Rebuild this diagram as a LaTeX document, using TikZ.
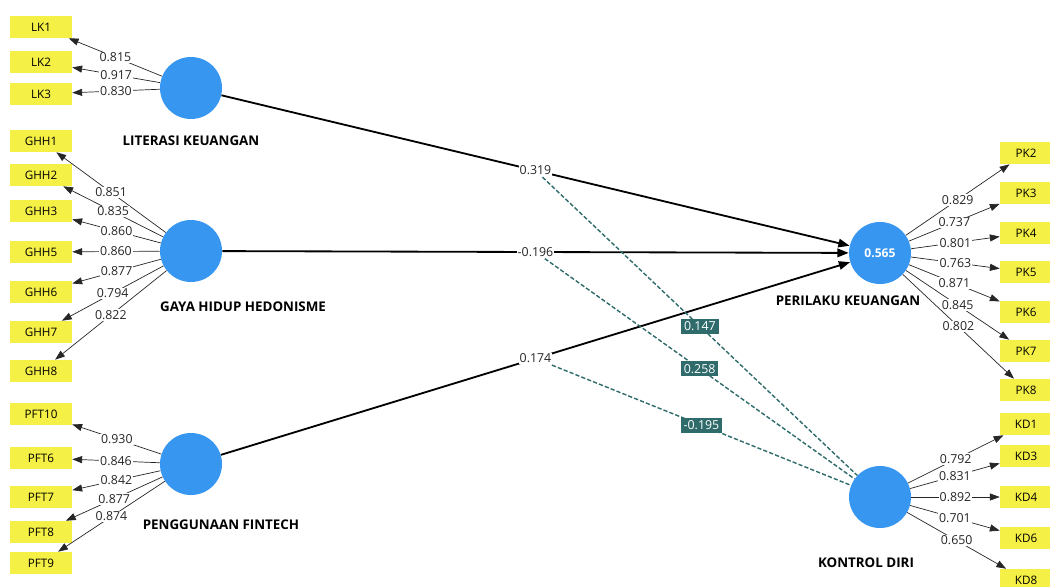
\documentclass[tikz,border=0pt]{standalone}
\usepackage{fontspec}
\setmainfont{Open Sans}
\usetikzlibrary{arrows.meta, positioning}
\definecolor{indcolor}{RGB}{245,240,70}
\definecolor{lvcolor}{RGB}{54,150,240}
\definecolor{modcolor}{RGB}{47,107,107}
\tikzset{
  ind/.style={fill=indcolor, minimum width=1.55cm, minimum height=0.55cm, inner sep=0pt, font=\fontsize{8.3}{9}\selectfont},
  indr/.style={ind, minimum width=1.3cm},
  lv/.style={circle, fill=lvcolor, minimum size=1.55cm, inner sep=0pt},
  lvname/.style={font=\fontsize{9.5}{11}\selectfont\bfseries},
  load/.style={-{Triangle[length=7pt,width=5pt]}, draw=black!85, line width=0.5pt},
  wt/.style={fill=white, inner sep=0.8pt, font=\fontsize{8.8}{10}\selectfont, text=black!85},
  inner/.style={-{Triangle[length=8pt,width=6pt]}, line width=1.3pt},
  moder/.style={draw=modcolor, dash pattern=on 3pt off 1.5pt, line width=1pt},
  modlbl/.style={fill=modcolor, text=white, inner sep=2pt, font=\fontsize{8.8}{10}\selectfont}
}
\begin{document}
\begin{tikzpicture}[x=0.025cm, y=-0.025cm]
    \useasboundingbox (0,0) rectangle (1050,586);
    % latent variables
    \node[lv] (lk) at (191,88) {};
    \node[lv] (ghh) at (191,251) {};
    \node[lv] (pft) at (191,464) {};
    \node[lv, text=white, font=\fontsize{8.6}{10}\selectfont\bfseries] (pk) at (880,253) {0.565};
    \node[lv] (kd) at (880,497) {};
    \node[lvname] (lkname) at (191,141) {LITERASI KEUANGAN};
    \node[lvname] (ghhname) at (243,307) {GAYA HIDUP HEDONISME};
    \node[lvname] (pftname) at (221,525) {PENGGUNAAN FINTECH};
    \node[lvname] (pkname) at (848,301) {PERILAKU KEUANGAN};
    \node[lvname] (kdname) at (866,563) {KONTROL DIRI};
    % indicators
    \foreach \name/\y in {LK1/27, LK2/62, LK3/94, GHH1/141, GHH2/175, GHH3/211, GHH5/252, GHH6/292, GHH7/332, GHH8/371, PFT10/414, PFT6/458, PFT7/497, PFT8/532, PFT9/563}
        \node[ind] (\name) at (41,\y) {\name};
    \foreach \name/\y in {PK2/153, PK3/193, PK4/233, PK5/272, PK6/312, PK7/351, PK8/390, KD1/424, KD3/456, KD4/497, KD6/538, KD8/580}
        \node[indr] (\name) at (1026,\y) {\name};
    % outer loadings
    \foreach \name/\w in {LK1/0.815, LK2/0.917, LK3/0.830}
        \draw[load] (lk) -- node[wt] {\w} (\name);
    \foreach \name/\w in {GHH1/0.851, GHH2/0.835, GHH3/0.860, GHH5/0.860, GHH6/0.877, GHH7/0.794, GHH8/0.822}
        \draw[load] (ghh) -- node[wt] {\w} (\name);
    \foreach \name/\w in {PFT10/0.930, PFT6/0.846, PFT7/0.842, PFT8/0.877, PFT9/0.874}
        \draw[load] (pft) -- node[wt] {\w} (\name);
    \foreach \name/\w in {PK2/0.829, PK3/0.737, PK4/0.801, PK5/0.763, PK6/0.871, PK7/0.845, PK8/0.802}
        \draw[load] (pk) -- node[wt] {\w} (\name);
    \foreach \name/\w in {KD1/0.792, KD3/0.831, KD4/0.892, KD6/0.701, KD8/0.650}
        \draw[load] (kd) -- node[wt] {\w} (\name);
    % structural paths
    \draw[inner] (lk) -- node[wt] (plk) {0.319} (pk);
    \draw[inner] (ghh) -- node[wt] (pghh) {-0.196} (pk);
    \draw[inner] (pft) -- node[wt] (ppft) {0.174} (pk);
    % moderating effects
    \draw[moder] (plk) -- node[modlbl] {0.147} (kd);
    \draw[moder] (pghh) -- node[modlbl] {0.258} (kd);
    \draw[moder] (ppft) -- node[modlbl] {-0.195} (kd);
\end{tikzpicture}
\end{document}
